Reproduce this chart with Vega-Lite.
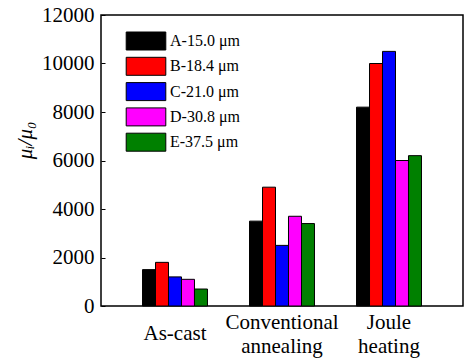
{
  "$schema": "https://vega.github.io/schema/vega-lite/v6.json",
  "width": 362,
  "height": 291,
  "autosize": {"type": "none"},
  "padding": {"left": 101, "top": 15, "right": 2, "bottom": 57},
  "background": "white",
  "config": {
    "view": {"stroke": "black", "strokeWidth": 1.5},
    "font": "Liberation Serif",
    "axis": {"labelFont": "Liberation Serif", "titleFont": "Liberation Serif"},
    "legend": {"labelFont": "Liberation Serif"}
  },
  "data": {
    "values": [
      {"process": "As-cast", "sample": "A-15.0 μm", "value": 1500},
      {"process": "As-cast", "sample": "B-18.4 μm", "value": 1800},
      {"process": "As-cast", "sample": "C-21.0 μm", "value": 1200},
      {"process": "As-cast", "sample": "D-30.8 μm", "value": 1100},
      {"process": "As-cast", "sample": "E-37.5 μm", "value": 700},
      {"process": "Conventional annealing", "sample": "A-15.0 μm", "value": 3500},
      {"process": "Conventional annealing", "sample": "B-18.4 μm", "value": 4900},
      {"process": "Conventional annealing", "sample": "C-21.0 μm", "value": 2500},
      {"process": "Conventional annealing", "sample": "D-30.8 μm", "value": 3700},
      {"process": "Conventional annealing", "sample": "E-37.5 μm", "value": 3400},
      {"process": "Joule heating", "sample": "A-15.0 μm", "value": 8200},
      {"process": "Joule heating", "sample": "B-18.4 μm", "value": 10000},
      {"process": "Joule heating", "sample": "C-21.0 μm", "value": 10500},
      {"process": "Joule heating", "sample": "D-30.8 μm", "value": 6000},
      {"process": "Joule heating", "sample": "E-37.5 μm", "value": 6200}
    ]
  },
  "mark": {"type": "bar", "stroke": "black", "strokeWidth": 1},
  "encoding": {
    "x": {
      "field": "process",
      "type": "nominal",
      "sort": ["As-cast", "Conventional annealing", "Joule heating"],
      "scale": {"paddingInner": 0.393, "paddingOuter": 0.388},
      "axis": {
        "title": null,
        "domain": false,
        "ticks": false,
        "labelAngle": 0,
        "labelFont": "Liberation Serif",
        "labelFontSize": 21,
        "labelColor": "black",
        "labelBaseline": "middle",
        "labelPadding": {"condition": {"test": "datum.value == 'As-cast'", "value": 27}, "value": 16},
        "labelLineHeight": 24,
        "labelExpr": "datum.value == 'As-cast' ? 'As-cast' : split(datum.value, ' ')"
      }
    },
    "xOffset": {
      "field": "sample",
      "type": "nominal",
      "scale": {"paddingInner": 0, "paddingOuter": 0}
    },
    "y": {
      "field": "value",
      "type": "quantitative",
      "scale": {"domain": [0, 12000], "nice": false},
      "axis": {
        "title": "μᵢ/μ₀",
        "titleFont": "Liberation Serif",
        "titleFontStyle": "italic",
        "titleFontWeight": "normal",
        "titleFontSize": 21,
        "titleColor": "black",
        "titleAngle": 270,
        "titleAlign": "center",
        "titleBaseline": "middle",
        "titleX": -76,
        "titleY": 125,
        "values": [0, 2000, 4000, 6000, 8000, 10000, 12000],
        "format": "d",
        "grid": false,
        "domain": false,
        "tickSize": -4,
        "tickColor": "black",
        "tickWidth": 1,
        "labelPadding": 11,
        "labelFont": "Liberation Serif",
        "labelFontSize": 21,
        "labelColor": "black",
        "labelFlush": false
      }
    },
    "color": {
      "field": "sample",
      "type": "nominal",
      "scale": {"range": ["#000000", "#ff0000", "#0000ff", "#ff00ff", "#008000"]},
      "legend": {
        "title": null,
        "orient": "none",
        "legendX": 35.5,
        "legendY": 16.5,
        "padding": 0,
        "symbolType": "M-2.2,-1L2.2,-1L2.2,1L-2.2,1Z",
        "symbolSize": 324,
        "symbolStrokeColor": "black",
        "symbolStrokeWidth": 1,
        "symbolOpacity": 1,
        "labelOffset": 14.5,
        "rowPadding": 2.3,
        "labelFont": "Liberation Serif",
        "labelFontSize": 16,
        "labelColor": "black"
      }
    }
  }
}
